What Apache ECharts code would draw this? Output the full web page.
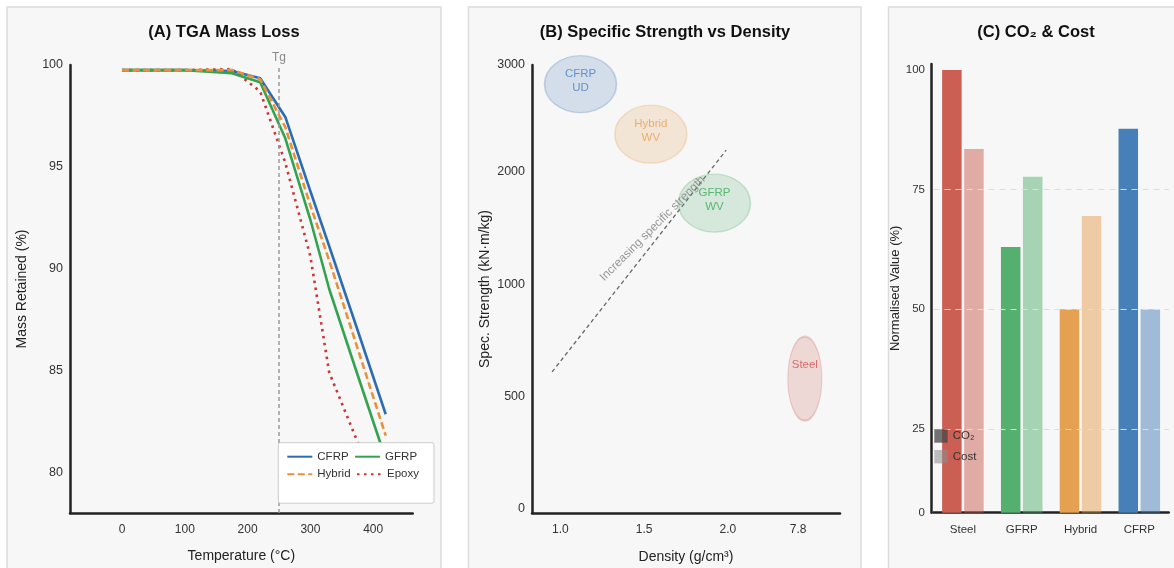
<!DOCTYPE html>
<html>
<head>
<meta charset="utf-8">
<script src="https://cdn.jsdelivr.net/npm/echarts@6/dist/echarts.min.js"></script>
<style>
  html, body { margin: 0; padding: 0; background: #ffffff; }
  #chart { width: 1174px; height: 568px; }
</style>
</head>
<body>
<div id="chart"></div>
<script>
// (A) TGA
const temps = [0, 100, 175, 220, 260, 300, 330, 375, 420];
const cfrpMass = [99.75, 99.75, 99.7, 99.35, 97.45, 93.8, 91.1, 87.0, 82.85];
const gfrpMass = [99.75, 99.75, 99.6, 99.15, 96.4, 92.4, 89.0, 84.8, 80.65];
const hybridMass = [99.75, 99.75, 99.75, 99.3, 96.95, 93.1, 90.4, 86.1, 81.8];
const epoxyMass = [99.75, 99.75, 99.8, 98.7, 95.2, 90.6, 84.9, 81.5, 78.35];
const tgTemp = 250;
const massTicks = [80, 85, 90, 95, 100];
const tempTicks = [0, 100, 200, 300, 400];

// (B) specific strength vs density (broken axes: tick value -> axis position)
const materials = ['CFRP\nUD', 'Hybrid\nWV', 'GFRP\nWV', 'Steel'];
const density = [1.12, 1.54, 1.92, 8.35];
const specStrength = [2820, 2350, 1720, 580];
const densityTicks = [1.0, 1.5, 2.0, 7.8];
const densityTickPos = [1.0, 1.5, 2.0, 2.42];
const strengthTicks = [0, 500, 1000, 2000, 3000];
const strengthTickPos = [0, 1.01, 2.02, 3.04, 4];
const trendDensity = [0.95, 1.99];
const trendStrength = [610, 2200];
const trendText = 'Increasing specific strength';
const trendTextAt = [1.55, 1495];

// (C) CO2 & cost
const products = ['Steel', 'GFRP', 'Hybrid', 'CFRP'];
const co2Values = [100, 63, 50, 87.7];
const costValues = [83.5, 77.7, 69.5, 50];
const normTicks = [0, 25, 50, 75, 100];

const FONT = '"Liberation Sans", Arial, sans-serif';
const matColors = ['#477fb8', '#e6a052', '#55af6f', '#cc5f53'];
const matText = ['#4a80c0', '#e8a050', '#3aaa5a', '#d05050'];
const barColors = ['#cc5f53', '#55af6f', '#e6a052', '#477fb8'];

function interp(v, ticks, pos) {
  let i = 0;
  while (i < ticks.length - 2 && v > ticks[i + 1]) i++;
  const t = (v - ticks[i]) / (ticks[i + 1] - ticks[i]);
  return pos[i] + t * (pos[i + 1] - pos[i]);
}
function tickLabel(pos, labels) {
  return function (v) {
    const k = pos.findIndex(p => Math.abs(p - v) < 1e-6);
    return k >= 0 ? labels[k] : '';
  };
}
function hexA(hex, a) {
  const n = parseInt(hex.slice(1), 16);
  return 'rgba(' + (n >> 16) + ',' + ((n >> 8) & 255) + ',' + (n & 255) + ',' + a + ')';
}

const axisLine = { show: true, onZero: false, lineStyle: { color: '#222', width: 2.5 } };
const nameStyle = { color: '#222', fontSize: 14, fontFamily: FONT };

const chart = echarts.init(document.getElementById('chart'));

const lineSeries = (name, arr, color, type, z) => ({
  name: name, type: 'line', xAxisIndex: 0, yAxisIndex: 0, z: z,
  symbol: 'none', smooth: false,
  lineStyle: { color: color, width: 2.6, type: type, cap: 'butt' },
  itemStyle: { color: color },
  data: temps.map((t, i) => [t, arr[i]])
});

const ellipseSize = [[72, 57], [72, 58], [72, 58], [34, 84]];
const labelOffset = [[0, -3], [0, -3], [0, -3], [0, -14]];

option = {
  animation: false,
  textStyle: { fontFamily: FONT },
  graphic: [
    { type: 'rect', z: -10, shape: { x: 7, y: 7, width: 434, height: 580 }, style: { fill: '#f7f7f7', stroke: '#dcdcdc', lineWidth: 1.5 } },
    { type: 'rect', z: -10, shape: { x: 468.5, y: 7, width: 392.5, height: 580 }, style: { fill: '#f7f7f7', stroke: '#dcdcdc', lineWidth: 1.5 } },
    { type: 'rect', z: -10, shape: { x: 888.5, y: 7, width: 300, height: 580 }, style: { fill: '#f7f7f7', stroke: '#dcdcdc', lineWidth: 1.5 } }
  ],
  title: [
    { text: '(A) TGA Mass Loss', left: 224, top: 24, textAlign: 'center', padding: 0,
      textStyle: { fontSize: 16.5, fontWeight: 'bold', color: '#111', fontFamily: FONT } },
    { text: '(B) Specific Strength vs Density', left: 665, top: 24, textAlign: 'center', padding: 0,
      textStyle: { fontSize: 16.5, fontWeight: 'bold', color: '#111', fontFamily: FONT } },
    { text: '(C) CO₂ & Cost', left: 1036, top: 24, textAlign: 'center', padding: 0,
      textStyle: { fontSize: 16.5, fontWeight: 'bold', color: '#111', fontFamily: FONT } }
  ],
  grid: [
    { left: 70, top: 65, width: 342.7, height: 448, containLabel: false, outerBoundsMode: 'none' },
    { left: 532, top: 65, width: 308, height: 448, containLabel: false, outerBoundsMode: 'none' },
    { left: 933.5, top: 64, width: 235.2, height: 448.7, containLabel: false, outerBoundsMode: 'none' }
  ],
  xAxis: [
    { gridIndex: 0, type: 'value', min: -83, max: 463, axisLine: axisLine, axisTick: { show: false }, splitLine: { show: false },
      axisLabel: { customValues: tempTicks, color: '#333', fontSize: 12, margin: 11 },
      name: 'Temperature (°C)', nameLocation: 'middle', nameGap: 36, nameTextStyle: nameStyle },
    { gridIndex: 1, type: 'value', min: 0.83, max: 2.67, axisLine: axisLine, axisTick: { show: false }, splitLine: { show: false },
      axisLabel: { customValues: densityTickPos, formatter: tickLabel(densityTickPos, densityTicks.map(d => d.toFixed(1))), color: '#333', fontSize: 12, margin: 11 },
      name: 'Density (g/cm³)', nameLocation: 'middle', nameGap: 37, nameTextStyle: nameStyle },
    { gridIndex: 2, type: 'category', data: products, boundaryGap: true, axisLine: axisLine, axisTick: { show: false }, splitLine: { show: false },
      axisLabel: { color: '#333', fontSize: 11.5, margin: 11 } }
  ],
  yAxis: [
    { gridIndex: 0, type: 'value', min: 78, max: 100, axisLine: axisLine, axisTick: { show: false }, splitLine: { show: false },
      axisLabel: { customValues: massTicks, color: '#333', fontSize: 12.5, margin: 7 },
      name: 'Mass Retained (%)', nameLocation: 'middle', nameGap: 41, nameTextStyle: nameStyle },
    { gridIndex: 1, type: 'value', min: -0.04, max: 4, axisLine: axisLine, axisTick: { show: false }, splitLine: { show: false },
      axisLabel: { customValues: strengthTickPos, formatter: tickLabel(strengthTickPos, strengthTicks.map(String)), color: '#333', fontSize: 12.5, margin: 7 },
      name: 'Spec. Strength (kN·m/kg)', nameLocation: 'middle', nameGap: 39.5, nameTextStyle: nameStyle },
    { gridIndex: 2, type: 'value', min: 7.5, max: 101.25, offset: 2.5, axisLine: axisLine, axisTick: { show: false }, splitLine: { show: false },
      axisLabel: { customValues: [7.5].concat(normTicks.slice(1)), formatter: v => (v < normTicks[1] ? String(normTicks[0]) : String(v)), color: '#333', fontSize: 11.5, margin: 6 },
      name: 'Normalised Value (%)', nameLocation: 'middle', nameGap: 27.5, nameTextStyle: { color: '#222', fontSize: 13, fontFamily: FONT } }
  ],
  legend: [
    { data: ['CFRP', 'GFRP', 'Hybrid', 'Epoxy'], left: 278.3, top: 442.7, width: 135, orient: 'horizontal', z: 20,
      itemWidth: 25, itemHeight: 12, itemGap: 5.5, padding: [8, 15, 23, 8],
      itemStyle: { opacity: 0 },
      backgroundColor: '#ffffff', borderColor: '#cccccc', borderWidth: 1, borderRadius: 2,
      textStyle: { color: '#333', fontSize: 11.5, fontFamily: FONT } },
    { data: ['CO₂', 'Cost'], left: 934.3, top: 429.3, orient: 'vertical', icon: 'rect', z: 20,
      itemWidth: 13.4, itemHeight: 13.4, itemGap: 7.3, padding: 0,
      textStyle: { color: '#333', fontSize: 11.5, fontFamily: FONT } }
  ],
  series: [
    lineSeries('CFRP', cfrpMass, '#2c6cb4', 'solid', 3),
    lineSeries('GFRP', gfrpMass, '#34a350', 'solid', 4),
    lineSeries('Hybrid', hybridMass, '#e8913a', [7, 3.5], 5),
    lineSeries('Epoxy', epoxyMass, '#cc3333', [2.5, 4.5], 2),
    {
      type: 'line', xAxisIndex: 0, yAxisIndex: 0, z: 1, data: [], silent: true,
      markLine: {
        silent: true, symbol: ['none', 'none'],
        lineStyle: { color: '#9a9a9a', type: [4, 3], width: 1.5 },
        label: { show: true, position: 'end', formatter: 'Tg', color: '#888', fontSize: 12, distance: 1 },
        data: [{ xAxis: tgTemp }]
      }
    },
    {
      type: 'line', xAxisIndex: 1, yAxisIndex: 1, z: 1, symbol: 'none', silent: true,
      lineStyle: { color: '#666', width: 1.3, type: [4, 3] },
      data: trendDensity.map((d, i) => [interp(d, densityTicks, densityTickPos), interp(trendStrength[i], strengthTicks, strengthTickPos)])
    },
    {
      type: 'scatter', xAxisIndex: 1, yAxisIndex: 1, z: 3, silent: true,
      data: materials.map((m, i) => ({
        name: m,
        value: [interp(density[i], densityTicks, densityTickPos), interp(specStrength[i], strengthTicks, strengthTickPos)],
        symbolSize: ellipseSize[i],
        itemStyle: { color: hexA(matColors[i], 0.25), borderColor: hexA(matColors[i], 0.35), borderWidth: 1.5 },
        label: { show: true, position: 'inside', formatter: '{b}', color: matText[i], fontSize: 11.5, lineHeight: 14, offset: labelOffset[i] }
      }))
    },
    {
      type: 'scatter', xAxisIndex: 1, yAxisIndex: 1, z: 4, silent: true, symbolSize: 0,
      data: [{
        name: trendText,
        value: [interp(trendTextAt[0], densityTicks, densityTickPos), interp(trendTextAt[1], strengthTicks, strengthTickPos)],
        label: { show: true, position: 'inside', formatter: '{b}', rotate: 45, color: '#808080', fontSize: 11.8 }
      }]
    },
    {
      type: 'line', xAxisIndex: 2, yAxisIndex: 2, z: 1, data: [], silent: true,
      markLine: {
        silent: true, symbol: ['none', 'none'],
        lineStyle: { color: '#dddddd', type: [6, 5], width: 1 },
        label: { show: false },
        data: normTicks.slice(1, 4).map(v => ({ yAxis: v }))
      }
    },
    {
      name: 'CO₂', type: 'bar', xAxisIndex: 2, yAxisIndex: 2, barWidth: 19.5, barGap: '13%',
      itemStyle: { color: 'rgba(70,70,70,0.75)' },
      data: co2Values.map((v, i) => ({ value: v, itemStyle: { color: barColors[i] } }))
    },
    {
      name: 'Cost', type: 'bar', xAxisIndex: 2, yAxisIndex: 2, barWidth: 19.5, barGap: '13%',
      itemStyle: { color: 'rgba(140,140,140,0.55)' },
      data: costValues.map((v, i) => ({ value: v, itemStyle: { color: hexA(barColors[i], 0.5) } }))
    }
  ]
};

chart.setOption(option);
</script>
</body>
</html>
